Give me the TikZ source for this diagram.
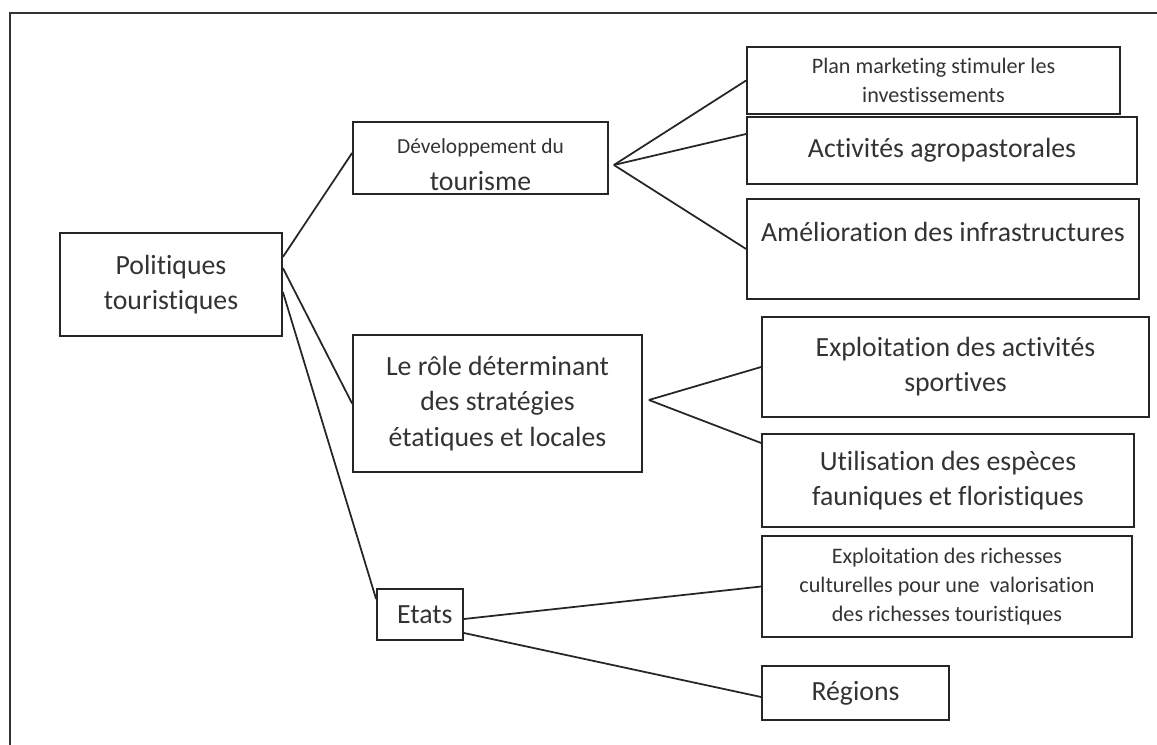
\documentclass[tikz,border=0pt]{standalone}
\usepackage{fontspec}
\setmainfont{Carlito}[RawFeature=-liga]
\usetikzlibrary{positioning}

\begin{document}
\begin{tikzpicture}[
  font=\fontsize{15.8}{20}\selectfont,
  box/.style={draw=black!85, line width=1pt, text=black!80, align=center, inner sep=2pt},
  small/.style={font=\fontsize{12.6}{16.5}\selectfont},
  link/.style={draw=black!85, line width=1pt}
]
\useasboundingbox (0,0) rectangle (23.14,-14.9);
% cadre
\draw[line width=1.1pt, black!80] (0.2,-14.9) -- (0.2,-0.26) -- (23.14,-0.26);

\node[box, minimum width=4.44cm, minimum height=2.06cm] (pol) at (3.42,-5.69) {Politiques\\touristiques};

\node[box, minimum width=5.10cm, minimum height=1.36cm] (dev) at (9.61,-3.16)
  {{\fontsize{12.2}{14}\selectfont\rule{0pt}{16pt}Développement du}\\[1pt]tourisme};
\node[box, minimum width=5.78cm, minimum height=2.74cm] (role) at (9.95,-8.07)
  {Le rôle déterminant\\des stratégies\\étatiques et locales};
\node[box, minimum width=1.72cm, minimum height=1.02cm, text width=1.3cm, align=right] (etats) at (8.40,-12.29) {Etats};

\node[box, small, minimum width=7.46cm, minimum height=1.34cm] (plan) at (18.67,-1.61)
  {Plan marketing stimuler les\\investissements};
\node[box, minimum width=7.80cm, minimum height=1.34cm] (act) at (18.84,-3.01) {Activités agropastorales};
\node[box, minimum width=7.84cm, minimum height=2.00cm] (amel) at (18.86,-4.98)
  {Amélioration des infrastructures\\\mbox{}};

\node[box, minimum width=7.74cm, minimum height=2.00cm] (sport) at (19.11,-7.34)
  {Exploitation des activités\\sportives};
\node[box, minimum width=7.44cm, minimum height=1.86cm] (util) at (18.96,-9.61)
  {Utilisation des espèces\\fauniques et floristiques};

\node[box, small, minimum width=7.40cm, minimum height=2.02cm] (rich) at (18.94,-11.73)
  {Exploitation des richesses\\culturelles pour une~ valorisation\\des richesses touristiques};
\node[box, minimum width=3.74cm, minimum height=1.08cm] (reg) at (17.11,-13.86) {Régions};

\coordinate (devfan) at ([shift={(0.1,-0.14)}]dev.east);
\coordinate (rolefan) at ([shift={(0.12,0.07)}]role.east);

\draw[link] ([yshift=0.55cm]pol.east) -- ([yshift=0.1cm]dev.west);
\draw[link] ([yshift=0.33cm]pol.east) -- (role.west);
\draw[link] ([yshift=-0.15cm]pol.east) -- ([yshift=0.31cm]etats.west);

\draw[link] (devfan) -- (plan.west);
\draw[link] (devfan) -- ([yshift=0.33cm]act.west);
\draw[link] (devfan) -- (amel.west);

\draw[link] (rolefan) -- (sport.west);
\draw[link] (rolefan) -- ([yshift=0.75cm]util.west);

\draw[link] ([yshift=-0.09cm]etats.east) -- (rich.west);
\draw[link] ([yshift=-0.37cm]etats.east) -- ([yshift=-0.08cm]reg.west);
\end{tikzpicture}
\end{document}
